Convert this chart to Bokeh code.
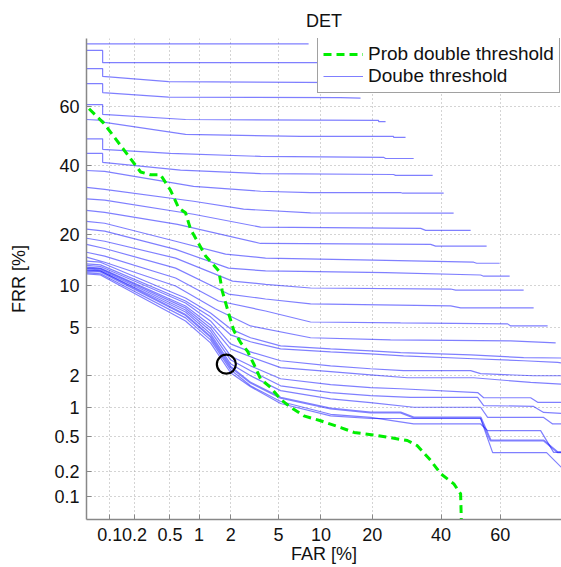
from statistics import NormalDist
from bokeh.plotting import figure
from bokeh.models import (FixedTicker, CustomJSTickFormatter, Legend, LegendItem, Range1d)
from bokeh.embed import file_html
from bokeh.resources import INLINE

# ---------------- data (percent) ----------------
TICK_VALUES = [0.1, 0.2, 0.5, 1, 2, 5, 10, 20, 40, 60]
TICK_LABELS = ["0.1", "0.2", "0.5", "1", "2", "5", "10", "20", "40", "60"]
FAR_LIMITS = (0.05, 78.2)
FRR_LIMITS = (0.05, 80.0)

# Prob double threshold (green dashed)
PROB_FAR = [0.054, 0.084, 0.235, 0.305, 0.395, 0.508, 0.618, 0.73, 0.822, 1.16, 1.55, 1.67, 1.92,
            2.13, 2.44, 2.79, 3.17, 3.60, 4.34, 5.18, 6.15, 7.66, 9.94, 13.3, 15.9, 21.2, 29.4,
            32.4, 36.6, 39.9, 44.3, 46.6, 46.9]
PROB_FRR = [59.4, 54.5, 38.0, 37.1, 37.1, 32.2, 27.0, 25.6, 21.3, 15.2, 12.4, 9.2, 6.34,
            4.75, 3.83, 3.27, 2.52, 1.86, 1.55, 1.20, 1.00, 0.82, 0.73, 0.62, 0.55, 0.51, 0.45,
            0.395, 0.27, 0.188, 0.142, 0.107, 0.04]

# Double threshold curves (blue)
C01_FAR = [0.05, 8.26]
C01_FRR = [78.7, 78.7]
C02_FAR = [0.05, 0.081, 0.081, 13.27]
C02_FRR = [77.0, 77.0, 73.7, 73.7]
C03_FAR = [0.05, 0.081, 0.081, 0.483, 15.19]
C03_FRR = [72.0, 72.0, 69.7, 68.1, 67.8]
C04_FAR = [0.05, 0.081, 0.081, 0.483, 13.27, 17.29]
C04_FRR = [67.5, 67.5, 64.7, 63.2, 63.1, 62.9]
C05_FAR = [0.05, 0.081, 0.081, 0.730, 21.53, 21.53, 23.32]
C05_FRR = [60.8, 60.8, 57.5, 55.8, 55.5, 55.1, 55.1]
C06_FAR = [0.05, 0.081, 0.086, 0.730, 7.26, 25.47, 25.47, 28.87]
C06_FRR = [55.8, 55.5, 54.8, 50.7, 50.0, 50.0, 49.7, 49.7]
C07_FAR = [0.05, 0.081, 0.081, 0.508, 3.60, 22.79, 23.32, 31.29]
C07_FRR = [49.2, 49.2, 45.6, 44.2, 43.2, 42.9, 42.5, 42.5]
C08_FAR = [0.05, 0.081, 0.081, 0.648, 3.60, 25.47, 26.01, 37.27]
C08_FRR = [44.2, 44.2, 41.2, 38.6, 37.5, 37.2, 36.9, 36.9]
C09_FAR = [0.05, 0.086, 0.881, 3.60, 8.52, 27.44, 28.0, 40.88]
C09_FRR = [38.5, 38.2, 33.4, 31.9, 31.5, 31.5, 31.3, 31.3]
C10_FAR = [0.05, 0.086, 0.881, 2.59, 8.52, 44.23]
C10_FRR = [33.1, 32.5, 28.9, 26.6, 25.6, 25.5]
C11_FAR = [0.05, 0.086, 0.881, 3.60, 33.45, 35.02, 50.02]
C11_FRR = [29.6, 29.2, 25.2, 21.8, 21.5, 21.0, 21.0]
C12_FAR = [0.05, 0.086, 0.603, 3.60, 36.62, 38.23, 55.47]
C12_FRR = [26.3, 25.7, 22.5, 17.9, 17.7, 17.3, 17.3]
C13_FAR = [0.05, 0.086, 0.575, 1.79, 3.95, 20.29, 51.05, 52.07, 59.83]
C13_FRR = [23.3, 22.8, 18.4, 15.6, 14.8, 14.4, 14.0, 13.8, 13.8]
C14_FAR = [0.05, 0.086, 0.575, 1.906, 3.95, 23.32, 53.43, 54.46, 63.11]
C14_FRR = [21.3, 20.8, 16.6, 12.9, 12.4, 12.1, 11.7, 11.5, 11.5]
C15_FAR = [0.05, 0.086, 0.575, 2.07, 3.95, 8.52, 43.22, 44.91, 67.53]
C15_FRR = [19.1, 18.4, 14.8, 10.7, 10.2, 9.65, 9.50, 9.35, 9.35]
C16_FAR = [0.05, 0.086, 0.575, 1.906, 3.95, 8.52, 43.22, 46.61, 70.55]
C16_FRR = [17.7, 16.8, 12.9, 8.79, 8.13, 7.51, 7.27, 7.04, 7.04]
C17_FAR = [0.05, 0.086, 0.575, 1.54, 3.95, 8.52, 27.44, 62.46, 63.43, 74.54]
C17_FRR = [16.0, 15.2, 11.2, 7.88, 6.69, 5.55, 5.46, 5.37, 5.18, 5.18]
C18_FAR = [0.05, 0.086, 0.575, 1.443, 2.97, 8.52, 24.66, 63.43, 76.70]
C18_FRR = [15.0, 14.0, 9.94, 6.92, 5.18, 4.19, 4.03, 3.96, 3.81]
C19_FAR = [0.05, 0.076, 0.730, 1.294, 1.987, 2.970, 5.18, 11.52, 19.57, 27.44, 50.02, 67.53, 78.2]
C19_FRR = [14.2, 14.0, 8.26, 6.47, 4.92, 4.19, 3.60, 3.40, 3.27, 3.17, 3.03, 2.87, 2.85]
C20_FAR = [0.05, 0.076, 0.730, 1.294, 1.987, 2.970, 5.18, 11.52, 19.57, 28.29, 51.05, 67.53, 77.22, 78.2]
C20_FRR = [13.7, 13.5, 7.88, 6.06, 4.42, 3.89, 3.40, 3.21, 3.09, 2.97, 2.81, 2.70, 2.61, 2.59]
C21_FAR = [0.05, 0.076, 0.730, 1.294, 1.987, 2.970, 5.18, 11.52, 19.57, 28.29, 50.02, 53.43, 70.55, 78.2]
C21_FRR = [13.4, 13.2, 7.63, 5.65, 3.74, 3.21, 2.70, 2.44, 2.30, 2.21, 2.21, 2.08, 1.99, 1.99]
C22_FAR = [0.05, 0.076, 0.730, 1.294, 1.987, 2.970, 5.18, 11.52, 19.57, 29.46, 51.05, 69.66, 78.2]
C22_FRR = [13.1, 12.9, 7.27, 5.27, 3.40, 2.92, 2.35, 2.17, 2.03, 1.91, 1.91, 1.73, 1.67]
C23_FAR = [0.05, 0.076, 0.730, 1.294, 1.987, 2.970, 5.18, 11.52, 19.57, 27.44, 52.41, 54.46, 69.66, 71.72, 78.2]
C23_FRR = [12.9, 12.8, 7.04, 5.00, 2.97, 2.44, 1.87, 1.65, 1.55, 1.51, 1.39, 1.24, 1.24, 1.12, 1.12]
C24_FAR = [0.05, 0.076, 0.730, 1.294, 1.987, 2.970, 5.18, 11.52, 19.57, 30.36, 52.41, 54.46, 70.55, 73.43, 78.2]
C24_FRR = [12.8, 12.6, 6.80, 4.75, 2.75, 2.21, 1.61, 1.39, 1.30, 1.25, 1.25, 1.04, 1.02, 0.887, 0.867]
C25_FAR = [0.05, 0.076, 0.730, 1.294, 1.987, 2.970, 5.18, 11.52, 19.57, 31.29, 53.43, 55.81, 73.43, 75.90, 78.2]
C25_FRR = [12.6, 12.4, 6.58, 4.50, 2.54, 1.99, 1.45, 1.21, 1.11, 1.00, 1.00, 0.789, 0.789, 0.676, 0.676]
C26_FAR = [0.05, 0.076, 0.730, 1.294, 1.987, 2.970, 5.18, 11.52, 19.57, 27.44, 31.29, 53.43, 56.82, 73.43, 77.22, 78.2]
C26_FRR = [12.4, 12.3, 6.26, 4.26, 2.39, 1.72, 1.24, 0.97, 0.887, 0.887, 0.789, 0.789, 0.45, 0.45, 0.333, 0.333]
C27_FAR = [0.05, 0.076, 0.730, 1.294, 1.987, 2.970, 5.18, 11.52, 19.57, 31.29, 53.43, 55.81, 72.58, 76.17, 78.2]
C27_FRR = [12.1, 11.9, 5.96, 4.03, 2.25, 1.61, 1.14, 0.85, 0.789, 0.676, 0.676, 0.575, 0.575, 0.333, 0.333]
C28_FAR = [0.05, 0.076, 0.730, 1.294, 1.987, 2.970, 5.18, 11.52, 19.57, 53.43, 57.50, 74.26, 78.2]
C28_FRR = [11.9, 11.7, 5.65, 3.81, 2.12, 1.58, 1.09, 0.82, 0.77, 0.77, 0.330, 0.330, 0.223]

# operating point marked with a circle
OP_FAR = [1.82]
OP_FRR = [2.52]

BLUE_CURVES = [
    (C01_FAR, C01_FRR), (C02_FAR, C02_FRR), (C03_FAR, C03_FRR), (C04_FAR, C04_FRR),
    (C05_FAR, C05_FRR), (C06_FAR, C06_FRR), (C07_FAR, C07_FRR), (C08_FAR, C08_FRR),
    (C09_FAR, C09_FRR), (C10_FAR, C10_FRR), (C11_FAR, C11_FRR), (C12_FAR, C12_FRR),
    (C13_FAR, C13_FRR), (C14_FAR, C14_FRR), (C15_FAR, C15_FRR), (C16_FAR, C16_FRR),
    (C17_FAR, C17_FRR), (C18_FAR, C18_FRR), (C19_FAR, C19_FRR), (C20_FAR, C20_FRR),
    (C21_FAR, C21_FRR), (C22_FAR, C22_FRR), (C23_FAR, C23_FRR), (C24_FAR, C24_FRR),
    (C25_FAR, C25_FRR), (C26_FAR, C26_FRR), (C27_FAR, C27_FRR), (C28_FAR, C28_FRR),
]

# ---------------- probit (normal deviate) scale ----------------
_nd = NormalDist()


def probit(pct):
    return _nd.inv_cdf(pct / 100.0)


def probit_list(vals):
    return [probit(v) for v in vals]


FONT = "Liberation Sans"

p = figure(width=561, height=567, output_backend="svg", toolbar_location=None,
           x_range=Range1d(probit(FAR_LIMITS[0]), probit(FAR_LIMITS[1])),
           y_range=Range1d(probit(FRR_LIMITS[0]), probit(FRR_LIMITS[1])),
           min_border_left=86, min_border_right=0, min_border_top=37, min_border_bottom=48,
           title="DET")
p.outline_line_color = None
p.background_fill_color = "white"
p.border_fill_color = "white"

p.title.align = "center"
p.title.text_font = FONT
p.title.text_font_size = "18px"
p.title.text_font_style = "normal"
p.title.text_color = "#111111"
p.title.standoff = 16

tick_pos = probit_list(TICK_VALUES)
fmt = CustomJSTickFormatter(args=dict(tpos=tick_pos, tlab=TICK_LABELS), code="""
let best = 0; let bd = 1e9;
for (let i = 0; i < tpos.length; i++) {
  const d = Math.abs(tpos[i] - tick);
  if (d < bd) { bd = d; best = i; }
}
return tlab[best];
""")

for ax in (p.xaxis[0], p.yaxis[0]):
    ax.ticker = FixedTicker(ticks=tick_pos, minor_ticks=[])
    ax.formatter = fmt
    ax.axis_line_color = "#888888"
    ax.axis_line_width = 1.5
    ax.major_tick_line_color = "#888888"
    ax.major_tick_in = 5
    ax.major_tick_out = 0
    ax.minor_tick_line_color = None
    ax.major_label_text_font = FONT
    ax.major_label_text_font_size = "18px"
    ax.major_label_text_color = "#111111"
    ax.axis_label_text_font = FONT
    ax.axis_label_text_font_size = "18px"
    ax.axis_label_text_font_style = "normal"
    ax.axis_label_text_color = "#111111"

p.xaxis.axis_label = "FAR [%]"
p.yaxis.axis_label = "FRR [%]"
p.xaxis.major_label_standoff = 8
p.xaxis.axis_label_standoff = 0
p.yaxis.major_label_standoff = 7
p.yaxis.axis_label_standoff = 22

p.grid.grid_line_color = "#a8a8a8"
p.grid.grid_line_dash = "1 3"
p.grid.grid_line_width = 1

blue_renderers = []
for i, (far, frr) in enumerate(BLUE_CURVES):
    r = p.line(probit_list(far), probit_list(frr), line_color="#0000ff", line_alpha=0.5,
               line_width=2.0 if i == 25 else 1.2)
    blue_renderers.append(r)

r_green = p.line(probit_list(PROB_FAR), probit_list(PROB_FRR), line_color="#00ee00",
                 line_width=3, line_dash="8 5")

p.scatter(probit_list(OP_FAR), probit_list(OP_FRR), marker="circle", size=19,
          fill_color=None, line_color="black", line_width=2.2)

legend = Legend(items=[LegendItem(label="Prob double threshold", renderers=[r_green]),
                       LegendItem(label="Doube threshold", renderers=[blue_renderers[0]])],
                location=(231, 426), margin=0, padding=5, spacing=0,
                glyph_width=40, glyph_height=20, label_height=20, label_standoff=5,
                label_text_font=FONT, label_text_font_size="19px", label_text_color="#111111",
                border_line_color="#444444", border_line_width=1.5,
                background_fill_color="white", background_fill_alpha=1.0)
p.add_layout(legend)

open("out.html", "w").write(file_html(p, INLINE))
